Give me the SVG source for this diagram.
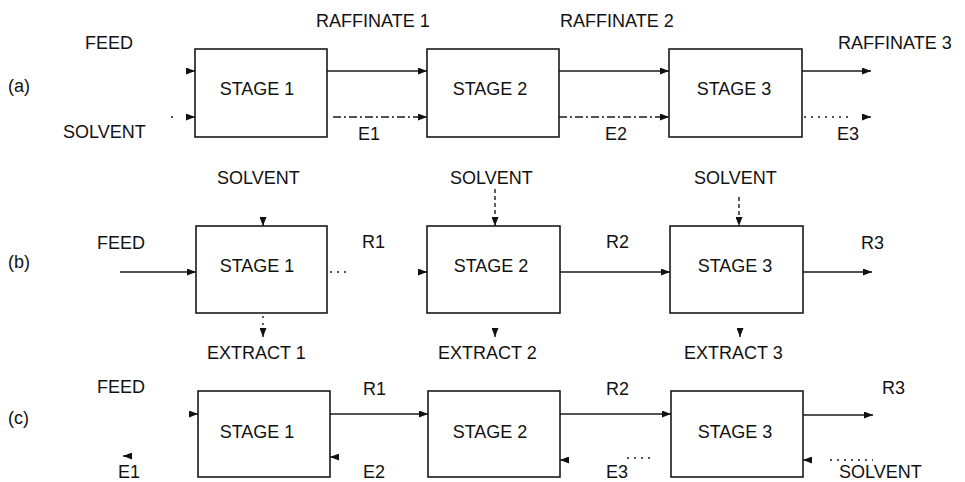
<svg xmlns="http://www.w3.org/2000/svg" width="965" height="482" viewBox="0 0 965 482">
<style>
.box{fill:#fff;stroke:#1a1a1a;stroke-width:1.6}
.t{font-family:"Liberation Sans",Arial,sans-serif;font-size:18px;fill:#111}
.c{stroke:#1a1a1a;stroke-width:1.4;fill:none;marker-end:url(#ah)}
.n{stroke:#1a1a1a;stroke-width:1.4;fill:none}
.dd{stroke-dasharray:8 3 2 3}
.dt{stroke-dasharray:2 5}
.ds{stroke-dasharray:4 3}
</style>
<defs>
<marker id="ah" markerUnits="userSpaceOnUse" markerWidth="9" markerHeight="7" refX="9" refY="3.5" orient="auto">
<path d="M0,0 L9,3.5 L0,7 z" fill="#111"/>
</marker>
</defs>
<rect width="965" height="482" fill="#fff"/>

<g id="labels-row">
<text class="t" x="8" y="92">(a)</text>
<text class="t" x="8" y="268">(b)</text>
<text class="t" x="8" y="424">(c)</text>
</g>

<!-- Row (a) -->
<g id="a-stage1"><rect class="box" x="195" y="49" width="132" height="88"/><text class="t" x="257" y="95" text-anchor="middle">STAGE 1</text></g>
<g id="a-stage2"><rect class="box" x="427" y="49" width="132" height="88"/><text class="t" x="490" y="95" text-anchor="middle">STAGE 2</text></g>
<g id="a-stage3"><rect class="box" x="669" y="49" width="133" height="88"/><text class="t" x="734" y="95" text-anchor="middle">STAGE 3</text></g>
<g id="a-labels">
<text class="t" x="85" y="49">FEED</text>
<text class="t" x="63" y="138">SOLVENT</text>
<text class="t" x="316" y="27">RAFFINATE 1</text>
<text class="t" x="560" y="27">RAFFINATE 2</text>
<text class="t" x="838" y="49">RAFFINATE 3</text>
<text class="t" x="358" y="140">E1</text>
<text class="t" x="605" y="140">E2</text>
<text class="t" x="837" y="140">E3</text>
</g>

<!-- Row (b) -->
<g id="b-stage1"><rect class="box" x="196" y="226" width="131" height="87"/><text class="t" x="257" y="272" text-anchor="middle">STAGE 1</text></g>
<g id="b-stage2"><rect class="box" x="427" y="226" width="133" height="87"/><text class="t" x="491" y="272" text-anchor="middle">STAGE 2</text></g>
<g id="b-stage3"><rect class="box" x="670" y="226" width="133" height="87"/><text class="t" x="735" y="272" text-anchor="middle">STAGE 3</text></g>
<g id="b-labels">
<text class="t" x="97" y="249">FEED</text>
<text class="t" x="217" y="184">SOLVENT</text>
<text class="t" x="450" y="184">SOLVENT</text>
<text class="t" x="694" y="184">SOLVENT</text>
<text class="t" x="362" y="248">R1</text>
<text class="t" x="606" y="248">R2</text>
<text class="t" x="861" y="249">R3</text>
<text class="t" x="207" y="359">EXTRACT 1</text>
<text class="t" x="438" y="359">EXTRACT 2</text>
<text class="t" x="684" y="359">EXTRACT 3</text>
</g>

<!-- Row (c) -->
<g id="c-stage1"><rect class="box" x="198" y="391" width="132" height="86"/><text class="t" x="257" y="438" text-anchor="middle">STAGE 1</text></g>
<g id="c-stage2"><rect class="box" x="428" y="391" width="132" height="86"/><text class="t" x="490" y="438" text-anchor="middle">STAGE 2</text></g>
<g id="c-stage3"><rect class="box" x="671" y="391" width="132" height="86"/><text class="t" x="735" y="438" text-anchor="middle">STAGE 3</text></g>
<g id="c-labels">
<text class="t" x="97" y="393">FEED</text>
<text class="t" x="363" y="395">R1</text>
<text class="t" x="606" y="395">R2</text>
<text class="t" x="882" y="394">R3</text>
<text class="t" x="118" y="478">E1</text>
<text class="t" x="363" y="478">E2</text>
<text class="t" x="606" y="478">E3</text>
<text class="t" x="839" y="478">SOLVENT</text>
</g>

<g id="connectors">
<!-- (a) -->
<line class="c" x1="186" y1="71" x2="195" y2="71"/>
<line class="n" x1="171" y1="117" x2="173" y2="117"/>
<line class="c" x1="186" y1="117" x2="195" y2="117"/>
<line class="c" x1="327" y1="71" x2="427" y2="71"/>
<line class="c dd" x1="333" y1="117" x2="427" y2="117"/>
<line class="c" x1="559" y1="71" x2="669" y2="71"/>
<line class="c dd" x1="559" y1="117" x2="669" y2="117"/>
<line class="c" x1="802" y1="71" x2="871" y2="71"/>
<line class="n dt" x1="804" y1="117" x2="850" y2="117"/>
<line class="c" x1="862" y1="117" x2="871" y2="117"/>
<!-- (b) -->
<line class="c" x1="120" y1="272" x2="196" y2="272"/>
<line class="n dt" x1="330" y1="272" x2="346" y2="272"/>
<line class="c" x1="418" y1="272" x2="427" y2="272"/>
<line class="c" x1="560" y1="272" x2="670" y2="272"/>
<line class="c" x1="803" y1="272" x2="872" y2="272"/>
<line class="c" x1="263" y1="217" x2="263" y2="226"/>
<line class="c ds" x1="495" y1="189" x2="495" y2="226"/>
<line class="c ds" x1="739" y1="197" x2="739" y2="226"/>
<line class="n dt" x1="263" y1="316" x2="263" y2="328"/>
<line class="c" x1="263" y1="328" x2="263" y2="337"/>
<line class="c" x1="495" y1="328" x2="495" y2="337"/>
<line class="c" x1="740" y1="328" x2="740" y2="337"/>
<!-- (c) -->
<line class="c" x1="189" y1="414" x2="198" y2="414"/>
<line class="c" x1="330" y1="414" x2="428" y2="414"/>
<line class="c" x1="560" y1="414" x2="671" y2="414"/>
<line class="c" x1="803" y1="415" x2="873" y2="415"/>
<line class="n dt" x1="830" y1="460" x2="873" y2="460"/>
<line class="c" x1="812" y1="460" x2="803" y2="460"/>
<line class="n dt" x1="627" y1="458" x2="651" y2="458"/>
<line class="c" x1="569" y1="460" x2="560" y2="460"/>
<line class="c" x1="339" y1="457" x2="330" y2="457"/>
<line class="c" x1="132" y1="456" x2="123" y2="456"/>
</g>
</svg>
